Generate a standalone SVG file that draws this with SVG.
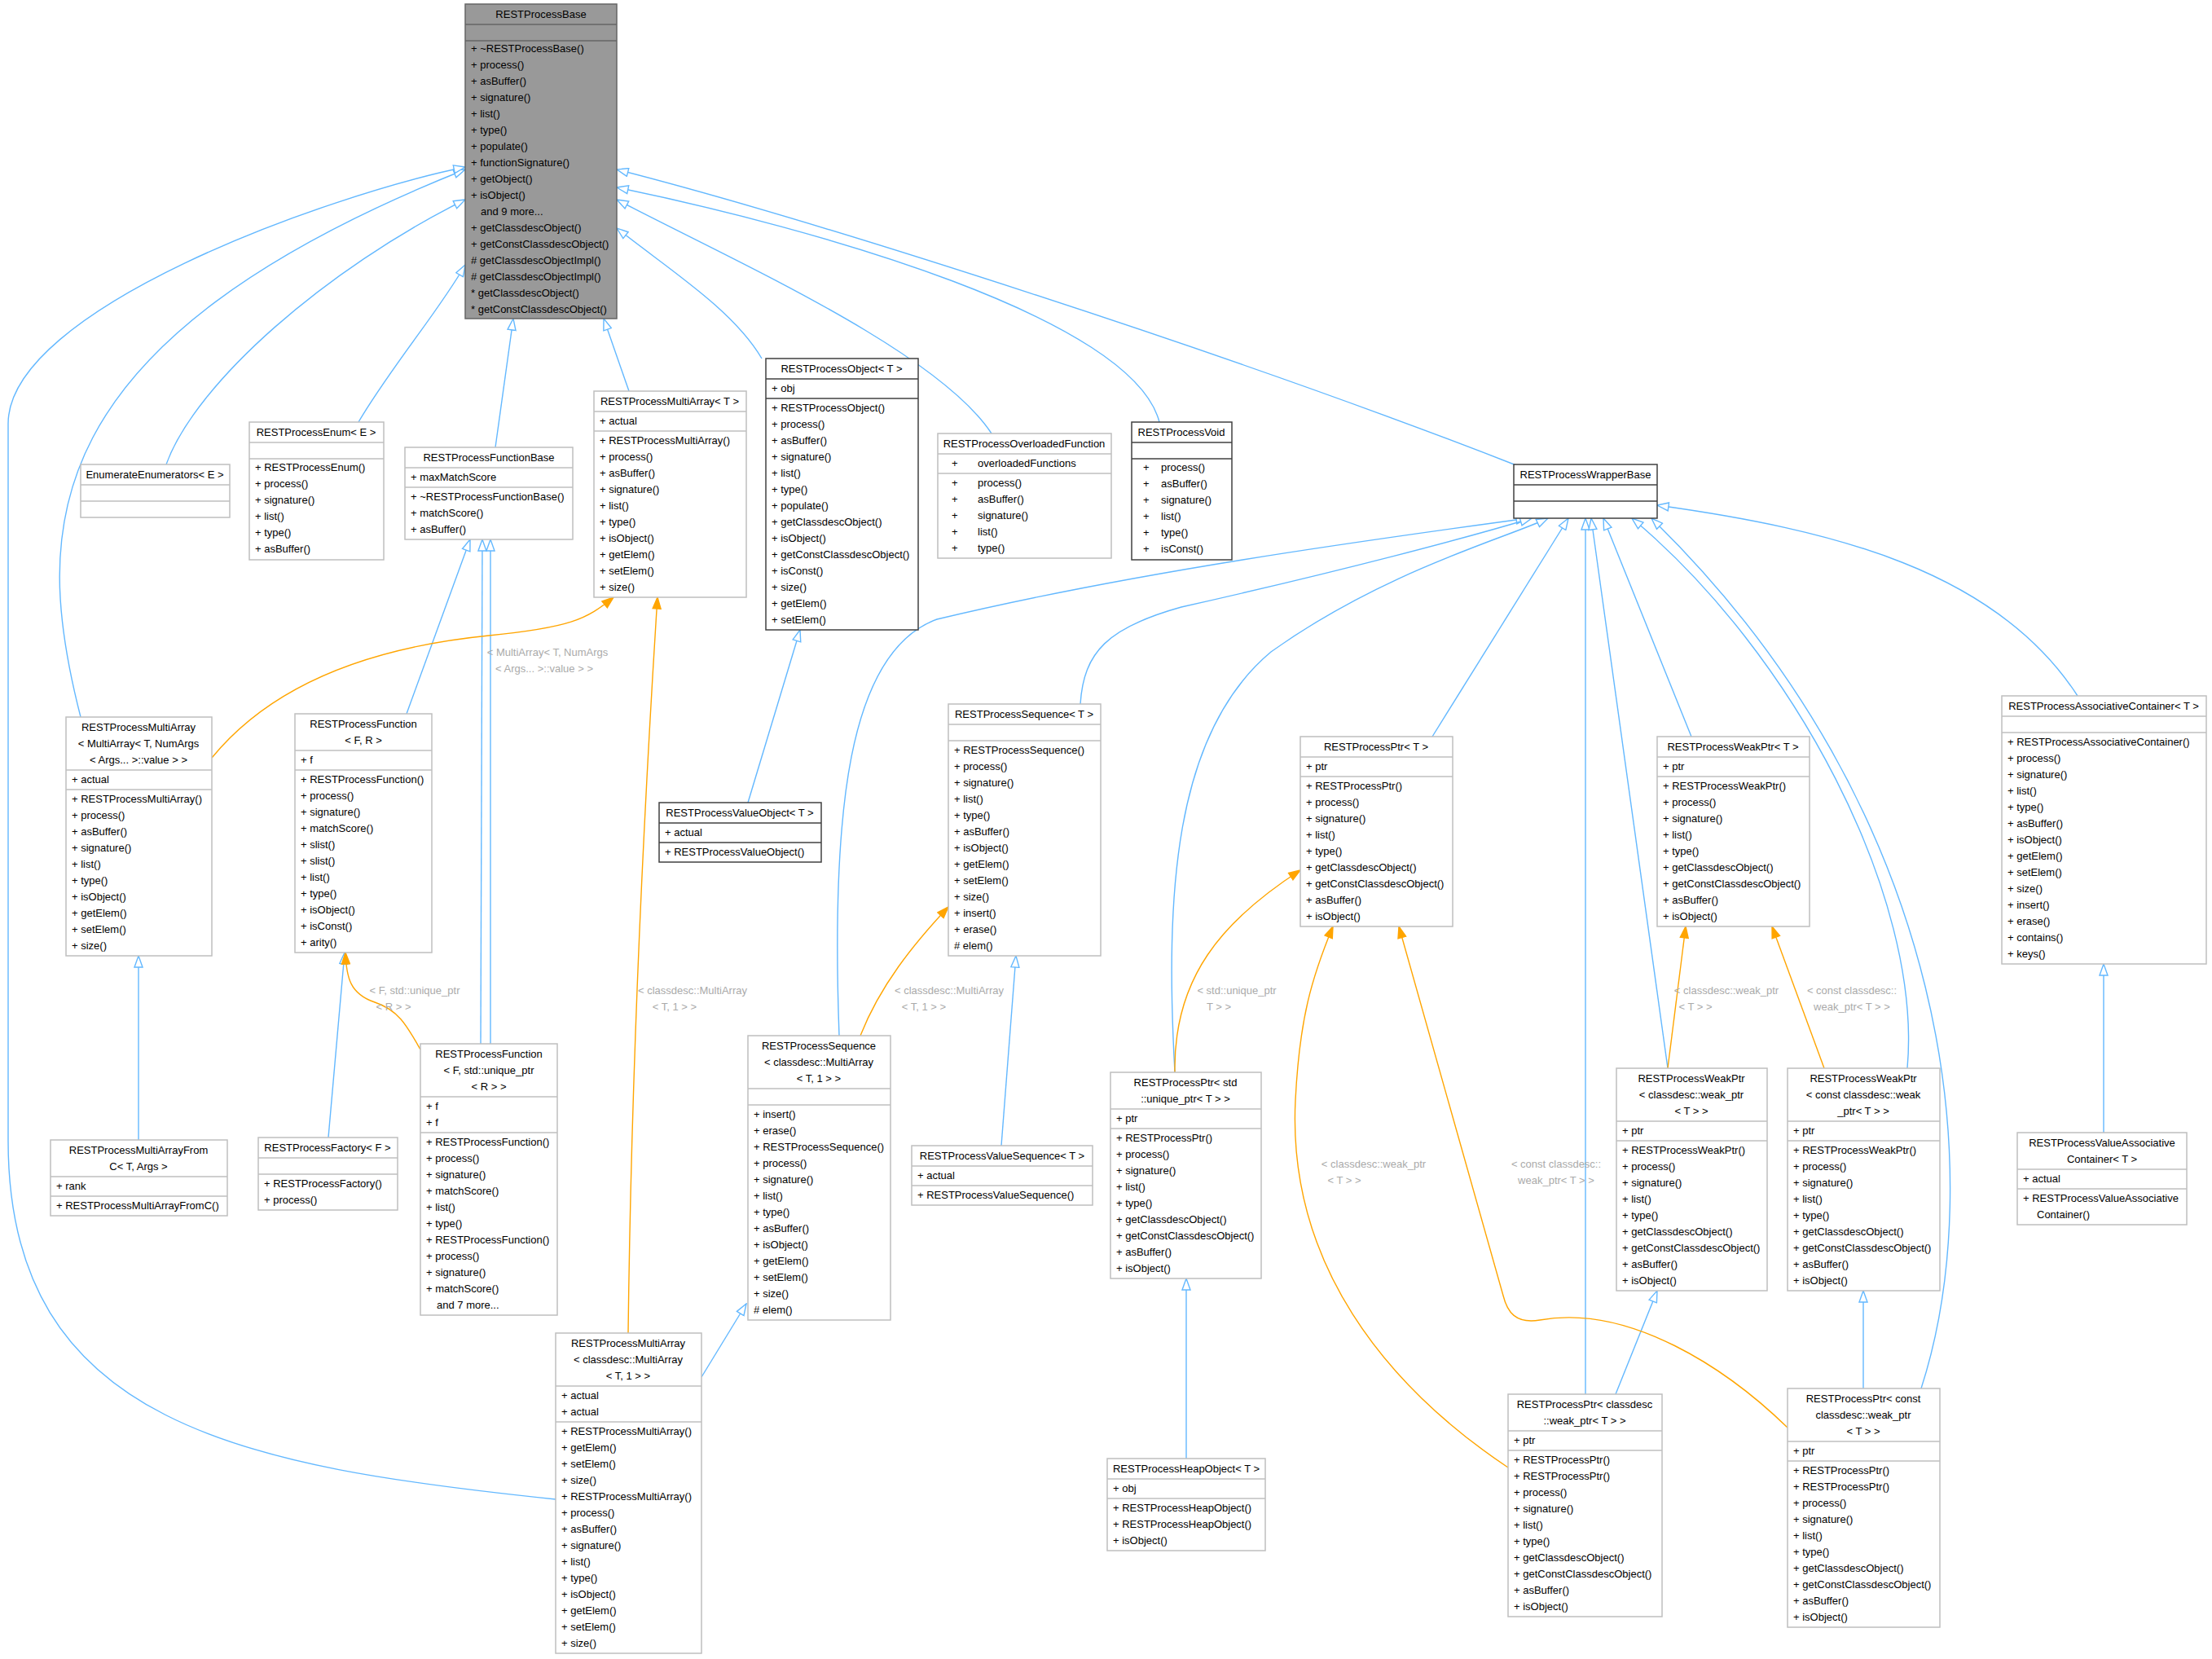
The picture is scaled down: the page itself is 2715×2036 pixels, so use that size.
<svg xmlns="http://www.w3.org/2000/svg" width="2715" height="2036" viewBox="0 0 2715 2036">
<style>
text{font-family:"Liberation Sans",Arial,sans-serif;font-size:13px;fill:#000}
.t{text-anchor:middle}
.lb{fill:#aaaaaa;text-anchor:middle}
.b{fill:#fff;stroke:#bfbfbf;stroke-width:1.5}
.k{fill:#fff;stroke:#404040;stroke-width:1.5}
.g{fill:#999;stroke:#666;stroke-width:1.5}
.sb{stroke:#bfbfbf;stroke-width:1.5}
.sk{stroke:#404040;stroke-width:1.5}
.sg{stroke:#666;stroke-width:1.5}
.eb{fill:none;stroke:#63b8ff;stroke-width:1.4;marker-end:url(#h)}
.eo{fill:none;stroke:#ffa500;stroke-width:1.4;marker-end:url(#f)}
</style>
<defs>
<marker id="h" viewBox="0 0 16 12" refX="15" refY="6" markerWidth="16" markerHeight="12" markerUnits="userSpaceOnUse" orient="auto"><path d="M1,1 L15,6 L1,11 z" fill="#fff" stroke="#63b8ff" stroke-width="1.4"/></marker>
<marker id="f" viewBox="0 0 16 12" refX="15" refY="6" markerWidth="16" markerHeight="12" markerUnits="userSpaceOnUse" orient="auto"><path d="M1,1 L15,6 L1,11 z" fill="#ffa500" stroke="#ffa500" stroke-width="1.4"/></marker>
</defs>
<rect width="2715" height="2036" fill="#fff"/>
<g id="connectors">
<path class="eb" d="M204,570 C240,470 400,330 571,245"/>
<path class="eb" d="M99,880 C40,650 40,420 571,208"/>
<path class="eb" d="M682,1840 C300,1800 10,1750 10,1400 L10,520 C10,380 400,240 571,205"/>
<path class="eb" d="M440,518 C480,450 540,380 571,325"/>
<path class="eb" d="M608,549 L630,391"/>
<path class="eb" d="M772,480 L741,391"/>
<path class="eb" d="M935,440 C900,380 820,330 757,280"/>
<path class="eb" d="M1217,532 C1150,430 900,320 757,245"/>
<path class="eb" d="M1423,518 C1390,390 1000,280 757,230"/>
<path class="eb" d="M1861,571 C1500,430 1000,270 757,208"/>
<path class="eb" d="M499,876 L577,662"/>
<path class="eb" d="M590,1281 L592,662"/>
<path class="eb" d="M602,1281 L602,662"/>
<path class="eb" d="M918,985 L982,773"/>
<path class="eb" d="M170,1399 L170,1173"/>
<path class="eb" d="M403,1396 L423,1169"/>
<path class="eb" d="M1229,1406 L1247,1173"/>
<path class="eb" d="M861,1690 L916,1600"/>
<path class="eb" d="M1456,1790 L1456,1569"/>
<path class="eb" d="M1983,1711 L2034,1584"/>
<path class="eb" d="M2287,1704 L2287,1584"/>
<path class="eb" d="M2582,1390 L2582,1183"/>
<path class="eb" d="M1030,1271 C1020,1000 1040,800 1150,760 C1400,700 1700,660 1875,636"/>
<path class="eb" d="M1326,864 C1330,800 1360,770 1450,745 C1650,700 1800,660 1880,636"/>
<path class="eb" d="M1758,904 L1925,636"/>
<path class="eb" d="M1442,1316 C1430,1100 1440,900 1560,800 C1700,700 1850,660 1900,636"/>
<path class="eb" d="M1946,1711 L1946,636"/>
<path class="eb" d="M2047,1311 L1953,636"/>
<path class="eb" d="M2076,904 L1968,636"/>
<path class="eb" d="M2341,1311 C2360,1100 2200,800 2003,636"/>
<path class="eb" d="M2358,1704 C2440,1450 2400,1000 2027,636"/>
<path class="eb" d="M2550,854 C2450,700 2250,650 2034,620"/>
<path class="eo" d="M260,930 C350,820 500,790 600,780 C700,770 720,760 753,733"/>
<path class="eo" d="M771,1636 C775,1300 790,1000 807,733"/>
<path class="eo" d="M1056,1271 C1080,1210 1120,1160 1164,1113"/>
<path class="eo" d="M516,1288 C500,1260 490,1240 460,1230 C430,1220 425,1200 424,1169"/>
<path class="eo" d="M1442,1316 C1440,1200 1500,1130 1596,1068"/>
<path class="eo" d="M1851,1801 C1700,1700 1580,1550 1590,1350 C1595,1250 1610,1200 1636,1137"/>
<path class="eo" d="M2194,1752 C2120,1680 2000,1600 1890,1620 C1860,1625 1850,1610 1845,1590 L1717,1137"/>
<path class="eo" d="M2047,1311 L2069,1137"/>
<path class="eo" d="M2239,1311 L2175,1137"/>
<text class="lb" x="672" y="805">&lt; MultiArray&lt; T, NumArgs</text>
<text class="lb" x="668" y="825">&lt; Args... &gt;::value &gt; &gt;</text>
<text class="lb" x="850" y="1220">&lt; classdesc::MultiArray</text>
<text class="lb" x="828" y="1240">&lt; T, 1 &gt; &gt;</text>
<text class="lb" x="1165" y="1220">&lt; classdesc::MultiArray</text>
<text class="lb" x="1134" y="1240">&lt; T, 1 &gt; &gt;</text>
<text class="lb" x="509" y="1220">&lt; F, std::unique_ptr</text>
<text class="lb" x="483" y="1240">&lt; R &gt; &gt;</text>
<text class="lb" x="1518" y="1220">&lt; std::unique_ptr</text>
<text class="lb" x="1496" y="1240">T &gt; &gt;</text>
<text class="lb" x="1686" y="1433">&lt; classdesc::weak_ptr</text>
<text class="lb" x="1650" y="1453">&lt; T &gt; &gt;</text>
<text class="lb" x="1910" y="1433">&lt; const classdesc::</text>
<text class="lb" x="1910" y="1453">weak_ptr&lt; T &gt; &gt;</text>
<text class="lb" x="2119" y="1220">&lt; classdesc::weak_ptr</text>
<text class="lb" x="2081" y="1240">&lt; T &gt; &gt;</text>
<text class="lb" x="2273" y="1220">&lt; const classdesc::</text>
<text class="lb" x="2273" y="1240">weak_ptr&lt; T &gt; &gt;</text>
</g>

<g id="RESTProcessBase">
<rect class="g" x="571" y="5" width="186" height="386"/>
<line class="sg" x1="571" y1="30" x2="757" y2="30"/><line class="sg" x1="571" y1="50" x2="757" y2="50"/>
<text class="t" x="664" y="22">RESTProcessBase</text>
<text x="578" y="64">+ ~RESTProcessBase()</text>
<text x="578" y="84">+ process()</text>
<text x="578" y="104">+ asBuffer()</text>
<text x="578" y="124">+ signature()</text>
<text x="578" y="144">+ list()</text>
<text x="578" y="164">+ type()</text>
<text x="578" y="184">+ populate()</text>
<text x="578" y="204">+ functionSignature()</text>
<text x="578" y="224">+ getObject()</text>
<text x="578" y="244">+ isObject()</text>
<text x="590" y="264">and 9 more...</text>
<text x="578" y="284">+ getClassdescObject()</text>
<text x="578" y="304">+ getConstClassdescObject()</text>
<text x="578" y="324"># getClassdescObjectImpl()</text>
<text x="578" y="344"># getClassdescObjectImpl()</text>
<text x="578" y="364">* getClassdescObject()</text>
<text x="578" y="384">* getConstClassdescObject()</text>
</g>

<g id="EnumerateEnumerators">
<rect class="b" x="99" y="570" width="183" height="65"/>
<line class="sb" x1="99" y1="595" x2="282" y2="595"/><line class="sb" x1="99" y1="615" x2="282" y2="615"/>
<text class="t" x="190" y="587">EnumerateEnumerators&lt; E &gt;</text>
</g>

<g id="RESTProcessEnum">
<rect class="b" x="306" y="518" width="165" height="169"/>
<line class="sb" x1="306" y1="543" x2="471" y2="543"/><line class="sb" x1="306" y1="563" x2="471" y2="563"/>
<text class="t" x="388" y="535">RESTProcessEnum&lt; E &gt;</text>
<text x="313" y="578">+  RESTProcessEnum()</text>
<text x="313" y="598">+  process()</text>
<text x="313" y="618">+  signature()</text>
<text x="313" y="638">+  list()</text>
<text x="313" y="658">+  type()</text>
<text x="313" y="678">+  asBuffer()</text>
</g>

<g id="RESTProcessFunctionBase">
<rect class="b" x="497" y="549" width="206" height="113"/>
<line class="sb" x1="497" y1="574" x2="703" y2="574"/><line class="sb" x1="497" y1="598" x2="703" y2="598"/>
<text class="t" x="600" y="566">RESTProcessFunctionBase</text>
<text x="504" y="590">+ maxMatchScore</text>
<text x="504" y="614">+ ~RESTProcessFunctionBase()</text>
<text x="504" y="634">+ matchScore()</text>
<text x="504" y="654">+ asBuffer()</text>
</g>

<g id="RESTProcessMultiArrayT">
<rect class="b" x="729" y="480" width="187" height="253"/>
<line class="sb" x1="729" y1="505" x2="916" y2="505"/><line class="sb" x1="729" y1="529" x2="916" y2="529"/>
<text class="t" x="822" y="497">RESTProcessMultiArray&lt; T &gt;</text>
<text x="736" y="521">+  actual</text>
<text x="736" y="545">+  RESTProcessMultiArray()</text>
<text x="736" y="565">+  process()</text>
<text x="736" y="585">+  asBuffer()</text>
<text x="736" y="605">+  signature()</text>
<text x="736" y="625">+  list()</text>
<text x="736" y="645">+  type()</text>
<text x="736" y="665">+  isObject()</text>
<text x="736" y="685">+  getElem()</text>
<text x="736" y="705">+  setElem()</text>
<text x="736" y="725">+  size()</text>
</g>

<g id="RESTProcessObject">
<rect class="k" x="940" y="440" width="187" height="333"/>
<line class="sk" x1="940" y1="465" x2="1127" y2="465"/><line class="sk" x1="940" y1="489" x2="1127" y2="489"/>
<text class="t" x="1033" y="457">RESTProcessObject&lt; T &gt;</text>
<text x="947" y="481">+ obj</text>
<text x="947" y="505">+ RESTProcessObject()</text>
<text x="947" y="525">+ process()</text>
<text x="947" y="545">+ asBuffer()</text>
<text x="947" y="565">+ signature()</text>
<text x="947" y="585">+ list()</text>
<text x="947" y="605">+ type()</text>
<text x="947" y="625">+ populate()</text>
<text x="947" y="645">+ getClassdescObject()</text>
<text x="947" y="665">+ isObject()</text>
<text x="947" y="685">+ getConstClassdescObject()</text>
<text x="947" y="705">+ isConst()</text>
<text x="947" y="725">+ size()</text>
<text x="947" y="745">+ getElem()</text>
<text x="947" y="765">+ setElem()</text>
</g>

<g id="RESTProcessOverloadedFunction">
<rect class="b" x="1151" y="532" width="213" height="153"/>
<line class="sb" x1="1151" y1="557" x2="1364" y2="557"/><line class="sb" x1="1151" y1="581" x2="1364" y2="581"/>
<text class="t" x="1257" y="549">RESTProcessOverloadedFunction</text>
<text x="1168" y="573">+</text><text x="1200" y="573">overloadedFunctions</text>
<text x="1168" y="597">+</text><text x="1200" y="597">process()</text>
<text x="1168" y="617">+</text><text x="1200" y="617">asBuffer()</text>
<text x="1168" y="637">+</text><text x="1200" y="637">signature()</text>
<text x="1168" y="657">+</text><text x="1200" y="657">list()</text>
<text x="1168" y="677">+</text><text x="1200" y="677">type()</text>
</g>

<g id="RESTProcessVoid">
<rect class="k" x="1389" y="518" width="123" height="169"/>
<line class="sk" x1="1389" y1="543" x2="1512" y2="543"/><line class="sk" x1="1389" y1="563" x2="1512" y2="563"/>
<text class="t" x="1450" y="535">RESTProcessVoid</text>
<text x="1403" y="578">+</text><text x="1425" y="578">process()</text>
<text x="1403" y="598">+</text><text x="1425" y="598">asBuffer()</text>
<text x="1403" y="618">+</text><text x="1425" y="618">signature()</text>
<text x="1403" y="638">+</text><text x="1425" y="638">list()</text>
<text x="1403" y="658">+</text><text x="1425" y="658">type()</text>
<text x="1403" y="678">+</text><text x="1425" y="678">isConst()</text>
</g>

<g id="RESTProcessWrapperBase">
<rect class="k" x="1858" y="570" width="176" height="66"/>
<line class="sk" x1="1858" y1="595" x2="2034" y2="595"/><line class="sk" x1="1858" y1="615" x2="2034" y2="615"/>
<text class="t" x="1946" y="587">RESTProcessWrapperBase</text>
</g>

<g id="RESTProcessMultiArrayMA">
<rect class="b" x="81" y="880" width="179" height="293"/>
<line class="sb" x1="81" y1="945" x2="260" y2="945"/><line class="sb" x1="81" y1="969" x2="260" y2="969"/>
<text class="t" x="170" y="897">RESTProcessMultiArray</text>
<text class="t" x="170" y="917">&lt; MultiArray&lt; T, NumArgs</text>
<text class="t" x="170" y="937">&lt; Args... &gt;::value &gt; &gt;</text>
<text x="88" y="961">+  actual</text>
<text x="88" y="985">+  RESTProcessMultiArray()</text>
<text x="88" y="1005">+  process()</text>
<text x="88" y="1025">+  asBuffer()</text>
<text x="88" y="1045">+  signature()</text>
<text x="88" y="1065">+  list()</text>
<text x="88" y="1085">+  type()</text>
<text x="88" y="1105">+  isObject()</text>
<text x="88" y="1125">+  getElem()</text>
<text x="88" y="1145">+  setElem()</text>
<text x="88" y="1165">+  size()</text>
</g>

<g id="RESTProcessFunctionFR">
<rect class="b" x="362" y="876" width="168" height="293"/>
<line class="sb" x1="362" y1="921" x2="530" y2="921"/><line class="sb" x1="362" y1="945" x2="530" y2="945"/>
<text class="t" x="446" y="893">RESTProcessFunction</text>
<text class="t" x="446" y="913">&lt; F, R &gt;</text>
<text x="369" y="937">+ f</text>
<text x="369" y="961">+ RESTProcessFunction()</text>
<text x="369" y="981">+ process()</text>
<text x="369" y="1001">+ signature()</text>
<text x="369" y="1021">+ matchScore()</text>
<text x="369" y="1041">+ slist()</text>
<text x="369" y="1061">+ slist()</text>
<text x="369" y="1081">+ list()</text>
<text x="369" y="1101">+ type()</text>
<text x="369" y="1121">+ isObject()</text>
<text x="369" y="1141">+ isConst()</text>
<text x="369" y="1161">+ arity()</text>
</g>

<g id="RESTProcessValueObject">
<rect class="k" x="809" y="985" width="199" height="73"/>
<line class="sk" x1="809" y1="1010" x2="1008" y2="1010"/><line class="sk" x1="809" y1="1034" x2="1008" y2="1034"/>
<text class="t" x="908" y="1002">RESTProcessValueObject&lt; T &gt;</text>
<text x="816" y="1026">+  actual</text>
<text x="816" y="1050">+  RESTProcessValueObject()</text>
</g>

<g id="RESTProcessSequenceT">
<rect class="b" x="1164" y="864" width="187" height="309"/>
<line class="sb" x1="1164" y1="889" x2="1351" y2="889"/><line class="sb" x1="1164" y1="909" x2="1351" y2="909"/>
<text class="t" x="1257" y="881">RESTProcessSequence&lt; T &gt;</text>
<text x="1171" y="925">+  RESTProcessSequence()</text>
<text x="1171" y="945">+  process()</text>
<text x="1171" y="965">+  signature()</text>
<text x="1171" y="985">+  list()</text>
<text x="1171" y="1005">+  type()</text>
<text x="1171" y="1025">+  asBuffer()</text>
<text x="1171" y="1045">+  isObject()</text>
<text x="1171" y="1065">+  getElem()</text>
<text x="1171" y="1085">+  setElem()</text>
<text x="1171" y="1105">+  size()</text>
<text x="1171" y="1125">+  insert()</text>
<text x="1171" y="1145">+  erase()</text>
<text x="1171" y="1165">#  elem()</text>
</g>

<g id="RESTProcessPtrT">
<rect class="b" x="1596" y="904" width="187" height="233"/>
<line class="sb" x1="1596" y1="929" x2="1783" y2="929"/><line class="sb" x1="1596" y1="953" x2="1783" y2="953"/>
<text class="t" x="1689" y="921">RESTProcessPtr&lt; T &gt;</text>
<text x="1603" y="945">+ ptr</text>
<text x="1603" y="969">+ RESTProcessPtr()</text>
<text x="1603" y="989">+ process()</text>
<text x="1603" y="1009">+ signature()</text>
<text x="1603" y="1029">+ list()</text>
<text x="1603" y="1049">+ type()</text>
<text x="1603" y="1069">+ getClassdescObject()</text>
<text x="1603" y="1089">+ getConstClassdescObject()</text>
<text x="1603" y="1109">+ asBuffer()</text>
<text x="1603" y="1129">+ isObject()</text>
</g>

<g id="RESTProcessWeakPtrT">
<rect class="b" x="2034" y="904" width="187" height="233"/>
<line class="sb" x1="2034" y1="929" x2="2221" y2="929"/><line class="sb" x1="2034" y1="953" x2="2221" y2="953"/>
<text class="t" x="2127" y="921">RESTProcessWeakPtr&lt; T &gt;</text>
<text x="2041" y="945">+ ptr</text>
<text x="2041" y="969">+ RESTProcessWeakPtr()</text>
<text x="2041" y="989">+ process()</text>
<text x="2041" y="1009">+ signature()</text>
<text x="2041" y="1029">+ list()</text>
<text x="2041" y="1049">+ type()</text>
<text x="2041" y="1069">+ getClassdescObject()</text>
<text x="2041" y="1089">+ getConstClassdescObject()</text>
<text x="2041" y="1109">+ asBuffer()</text>
<text x="2041" y="1129">+ isObject()</text>
</g>

<g id="RESTProcessAssociativeContainer">
<rect class="b" x="2457" y="854" width="251" height="329"/>
<line class="sb" x1="2457" y1="879" x2="2708" y2="879"/><line class="sb" x1="2457" y1="899" x2="2708" y2="899"/>
<text class="t" x="2582" y="871">RESTProcessAssociativeContainer&lt; T &gt;</text>
<text x="2464" y="915">+  RESTProcessAssociativeContainer()</text>
<text x="2464" y="935">+  process()</text>
<text x="2464" y="955">+  signature()</text>
<text x="2464" y="975">+  list()</text>
<text x="2464" y="995">+  type()</text>
<text x="2464" y="1015">+  asBuffer()</text>
<text x="2464" y="1035">+  isObject()</text>
<text x="2464" y="1055">+  getElem()</text>
<text x="2464" y="1075">+  setElem()</text>
<text x="2464" y="1095">+  size()</text>
<text x="2464" y="1115">+  insert()</text>
<text x="2464" y="1135">+  erase()</text>
<text x="2464" y="1155">+  contains()</text>
<text x="2464" y="1175">+  keys()</text>
</g>

<g id="RESTProcessMultiArrayFromC">
<rect class="b" x="62" y="1399" width="217" height="93"/>
<line class="sb" x1="62" y1="1444" x2="279" y2="1444"/><line class="sb" x1="62" y1="1468" x2="279" y2="1468"/>
<text class="t" x="170" y="1416">RESTProcessMultiArrayFrom</text>
<text class="t" x="170" y="1436">C&lt; T, Args &gt;</text>
<text x="69" y="1460">+ rank</text>
<text x="69" y="1484">+ RESTProcessMultiArrayFromC()</text>
</g>

<g id="RESTProcessFactory">
<rect class="b" x="317" y="1396" width="171" height="89"/>
<line class="sb" x1="317" y1="1421" x2="488" y2="1421"/><line class="sb" x1="317" y1="1441" x2="488" y2="1441"/>
<text class="t" x="402" y="1413">RESTProcessFactory&lt; F &gt;</text>
<text x="324" y="1457">+  RESTProcessFactory()</text>
<text x="324" y="1477">+  process()</text>
</g>

<g id="RESTProcessFunctionUnique">
<rect class="b" x="516" y="1281" width="168" height="333"/>
<line class="sb" x1="516" y1="1346" x2="684" y2="1346"/><line class="sb" x1="516" y1="1390" x2="684" y2="1390"/>
<text class="t" x="600" y="1298">RESTProcessFunction</text>
<text class="t" x="600" y="1318">&lt; F, std::unique_ptr</text>
<text class="t" x="600" y="1338">&lt; R &gt; &gt;</text>
<text x="523" y="1362">+ f</text>
<text x="523" y="1382">+ f</text>
<text x="523" y="1406">+ RESTProcessFunction()</text>
<text x="523" y="1426">+ process()</text>
<text x="523" y="1446">+ signature()</text>
<text x="523" y="1466">+ matchScore()</text>
<text x="523" y="1486">+ list()</text>
<text x="523" y="1506">+ type()</text>
<text x="523" y="1526">+ RESTProcessFunction()</text>
<text x="523" y="1546">+ process()</text>
<text x="523" y="1566">+ signature()</text>
<text x="523" y="1586">+ matchScore()</text>
<text x="536" y="1606">and 7 more...</text>
</g>

<g id="RESTProcessSequenceMA">
<rect class="b" x="918" y="1271" width="175" height="349"/>
<line class="sb" x1="918" y1="1336" x2="1093" y2="1336"/><line class="sb" x1="918" y1="1356" x2="1093" y2="1356"/>
<text class="t" x="1005" y="1288">RESTProcessSequence</text>
<text class="t" x="1005" y="1308">&lt; classdesc::MultiArray</text>
<text class="t" x="1005" y="1328">&lt; T, 1 &gt; &gt;</text>
<text x="925" y="1372">+ insert()</text>
<text x="925" y="1392">+ erase()</text>
<text x="925" y="1412">+ RESTProcessSequence()</text>
<text x="925" y="1432">+ process()</text>
<text x="925" y="1452">+ signature()</text>
<text x="925" y="1472">+ list()</text>
<text x="925" y="1492">+ type()</text>
<text x="925" y="1512">+ asBuffer()</text>
<text x="925" y="1532">+ isObject()</text>
<text x="925" y="1552">+ getElem()</text>
<text x="925" y="1572">+ setElem()</text>
<text x="925" y="1592">+ size()</text>
<text x="925" y="1612"># elem()</text>
</g>

<g id="RESTProcessValueSequence">
<rect class="b" x="1119" y="1406" width="222" height="73"/>
<line class="sb" x1="1119" y1="1431" x2="1341" y2="1431"/><line class="sb" x1="1119" y1="1455" x2="1341" y2="1455"/>
<text class="t" x="1230" y="1423">RESTProcessValueSequence&lt; T &gt;</text>
<text x="1126" y="1447">+  actual</text>
<text x="1126" y="1471">+  RESTProcessValueSequence()</text>
</g>

<g id="RESTProcessPtrUnique">
<rect class="b" x="1363" y="1316" width="185" height="253"/>
<line class="sb" x1="1363" y1="1361" x2="1548" y2="1361"/><line class="sb" x1="1363" y1="1385" x2="1548" y2="1385"/>
<text class="t" x="1455" y="1333">RESTProcessPtr&lt; std</text>
<text class="t" x="1455" y="1353">::unique_ptr&lt; T &gt; &gt;</text>
<text x="1370" y="1377">+ ptr</text>
<text x="1370" y="1401">+ RESTProcessPtr()</text>
<text x="1370" y="1421">+ process()</text>
<text x="1370" y="1441">+ signature()</text>
<text x="1370" y="1461">+ list()</text>
<text x="1370" y="1481">+ type()</text>
<text x="1370" y="1501">+ getClassdescObject()</text>
<text x="1370" y="1521">+ getConstClassdescObject()</text>
<text x="1370" y="1541">+ asBuffer()</text>
<text x="1370" y="1561">+ isObject()</text>
</g>

<g id="RESTProcessWeakPtrClassdesc">
<rect class="b" x="1984" y="1311" width="185" height="273"/>
<line class="sb" x1="1984" y1="1376" x2="2169" y2="1376"/><line class="sb" x1="1984" y1="1400" x2="2169" y2="1400"/>
<text class="t" x="2076" y="1328">RESTProcessWeakPtr</text>
<text class="t" x="2076" y="1348">&lt; classdesc::weak_ptr</text>
<text class="t" x="2076" y="1368">&lt; T &gt; &gt;</text>
<text x="1991" y="1392">+ ptr</text>
<text x="1991" y="1416">+ RESTProcessWeakPtr()</text>
<text x="1991" y="1436">+ process()</text>
<text x="1991" y="1456">+ signature()</text>
<text x="1991" y="1476">+ list()</text>
<text x="1991" y="1496">+ type()</text>
<text x="1991" y="1516">+ getClassdescObject()</text>
<text x="1991" y="1536">+ getConstClassdescObject()</text>
<text x="1991" y="1556">+ asBuffer()</text>
<text x="1991" y="1576">+ isObject()</text>
</g>

<g id="RESTProcessWeakPtrConst">
<rect class="b" x="2194" y="1311" width="187" height="273"/>
<line class="sb" x1="2194" y1="1376" x2="2381" y2="1376"/><line class="sb" x1="2194" y1="1400" x2="2381" y2="1400"/>
<text class="t" x="2287" y="1328">RESTProcessWeakPtr</text>
<text class="t" x="2287" y="1348">&lt; const classdesc::weak</text>
<text class="t" x="2287" y="1368">_ptr&lt; T &gt; &gt;</text>
<text x="2201" y="1392">+ ptr</text>
<text x="2201" y="1416">+ RESTProcessWeakPtr()</text>
<text x="2201" y="1436">+ process()</text>
<text x="2201" y="1456">+ signature()</text>
<text x="2201" y="1476">+ list()</text>
<text x="2201" y="1496">+ type()</text>
<text x="2201" y="1516">+ getClassdescObject()</text>
<text x="2201" y="1536">+ getConstClassdescObject()</text>
<text x="2201" y="1556">+ asBuffer()</text>
<text x="2201" y="1576">+ isObject()</text>
</g>

<g id="RESTProcessValueAssociativeContainer">
<rect class="b" x="2476" y="1390" width="208" height="113"/>
<line class="sb" x1="2476" y1="1435" x2="2684" y2="1435"/><line class="sb" x1="2476" y1="1459" x2="2684" y2="1459"/>
<text class="t" x="2580" y="1407">RESTProcessValueAssociative</text>
<text class="t" x="2580" y="1427">Container&lt; T &gt;</text>
<text x="2483" y="1451">+  actual</text>
<text x="2483" y="1475">+  RESTProcessValueAssociative</text>
<text x="2500" y="1495">Container()</text>
</g>

<g id="RESTProcessHeapObject">
<rect class="b" x="1359" y="1790" width="194" height="113"/>
<line class="sb" x1="1359" y1="1815" x2="1553" y2="1815"/><line class="sb" x1="1359" y1="1839" x2="1553" y2="1839"/>
<text class="t" x="1456" y="1807">RESTProcessHeapObject&lt; T &gt;</text>
<text x="1366" y="1831">+  obj</text>
<text x="1366" y="1855">+  RESTProcessHeapObject()</text>
<text x="1366" y="1875">+  RESTProcessHeapObject()</text>
<text x="1366" y="1895">+  isObject()</text>
</g>

<g id="RESTProcessPtrClassdescWeak">
<rect class="b" x="1851" y="1711" width="189" height="273"/>
<line class="sb" x1="1851" y1="1756" x2="2040" y2="1756"/><line class="sb" x1="1851" y1="1780" x2="2040" y2="1780"/>
<text class="t" x="1945" y="1728">RESTProcessPtr&lt; classdesc</text>
<text class="t" x="1945" y="1748">::weak_ptr&lt; T &gt; &gt;</text>
<text x="1858" y="1772">+ ptr</text>
<text x="1858" y="1796">+ RESTProcessPtr()</text>
<text x="1858" y="1816">+ RESTProcessPtr()</text>
<text x="1858" y="1836">+ process()</text>
<text x="1858" y="1856">+ signature()</text>
<text x="1858" y="1876">+ list()</text>
<text x="1858" y="1896">+ type()</text>
<text x="1858" y="1916">+ getClassdescObject()</text>
<text x="1858" y="1936">+ getConstClassdescObject()</text>
<text x="1858" y="1956">+ asBuffer()</text>
<text x="1858" y="1976">+ isObject()</text>
</g>

<g id="RESTProcessPtrConstWeak">
<rect class="b" x="2194" y="1704" width="187" height="293"/>
<line class="sb" x1="2194" y1="1769" x2="2381" y2="1769"/><line class="sb" x1="2194" y1="1793" x2="2381" y2="1793"/>
<text class="t" x="2287" y="1721">RESTProcessPtr&lt; const</text>
<text class="t" x="2287" y="1741">classdesc::weak_ptr</text>
<text class="t" x="2287" y="1761">&lt; T &gt; &gt;</text>
<text x="2201" y="1785">+ ptr</text>
<text x="2201" y="1809">+ RESTProcessPtr()</text>
<text x="2201" y="1829">+ RESTProcessPtr()</text>
<text x="2201" y="1849">+ process()</text>
<text x="2201" y="1869">+ signature()</text>
<text x="2201" y="1889">+ list()</text>
<text x="2201" y="1909">+ type()</text>
<text x="2201" y="1929">+ getClassdescObject()</text>
<text x="2201" y="1949">+ getConstClassdescObject()</text>
<text x="2201" y="1969">+ asBuffer()</text>
<text x="2201" y="1989">+ isObject()</text>
</g>

<g id="RESTProcessMultiArrayClassdesc">
<rect class="b" x="682" y="1636" width="179" height="393"/>
<line class="sb" x1="682" y1="1701" x2="861" y2="1701"/><line class="sb" x1="682" y1="1745" x2="861" y2="1745"/>
<text class="t" x="771" y="1653">RESTProcessMultiArray</text>
<text class="t" x="771" y="1673">&lt; classdesc::MultiArray</text>
<text class="t" x="771" y="1693">&lt; T, 1 &gt; &gt;</text>
<text x="689" y="1717">+ actual</text>
<text x="689" y="1737">+ actual</text>
<text x="689" y="1761">+ RESTProcessMultiArray()</text>
<text x="689" y="1781">+ getElem()</text>
<text x="689" y="1801">+ setElem()</text>
<text x="689" y="1821">+ size()</text>
<text x="689" y="1841">+ RESTProcessMultiArray()</text>
<text x="689" y="1861">+ process()</text>
<text x="689" y="1881">+ asBuffer()</text>
<text x="689" y="1901">+ signature()</text>
<text x="689" y="1921">+ list()</text>
<text x="689" y="1941">+ type()</text>
<text x="689" y="1961">+ isObject()</text>
<text x="689" y="1981">+ getElem()</text>
<text x="689" y="2001">+ setElem()</text>
<text x="689" y="2021">+ size()</text>
</g>
</svg>
